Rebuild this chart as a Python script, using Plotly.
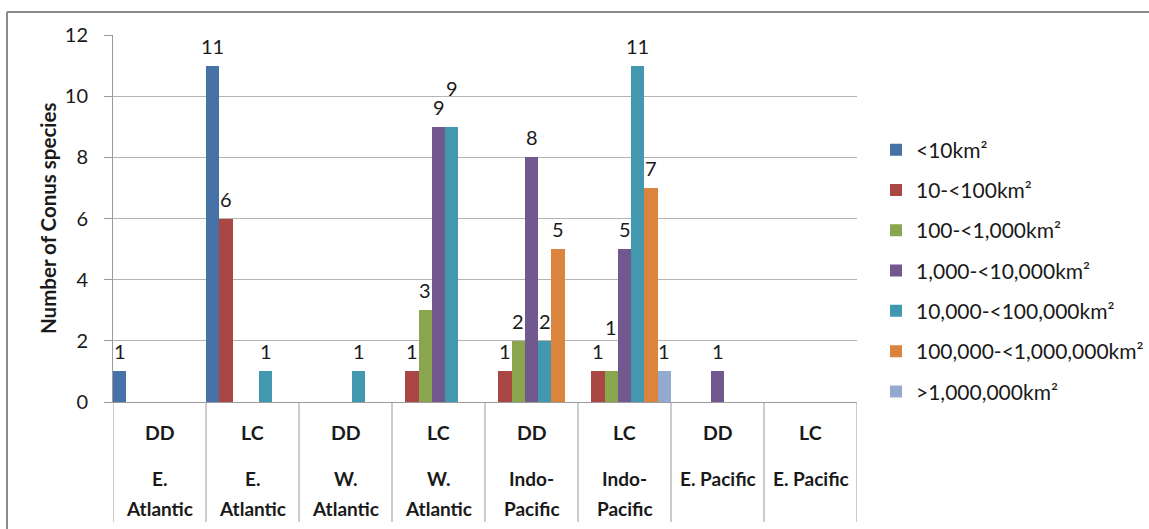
import plotly.graph_objects as go

# ---- data -------------------------------------------------------------
status = ["DD", "LC", "DD", "LC", "DD", "LC", "DD", "LC"]
region = ["E.<br>Atlantic", "E.<br>Atlantic", "W.<br>Atlantic", "W.<br>Atlantic",
          "Indo-<br>Pacific", "Indo-<br>Pacific", "E. Pacific", "E. Pacific"]

series_names = ["<10km²", "10-<100km²", "100-<1,000km²", "1,000-<10,000km²",
                "10,000-<100,000km²", "100,000-<1,000,000km²", ">1,000,000km²"]

lt_10 = [1, 11, 0, 0, 0, 0, 0, 0]
r10_100 = [0, 6, 0, 1, 1, 1, 0, 0]
r100_1k = [0, 0, 0, 3, 2, 1, 0, 0]
r1k_10k = [0, 0, 0, 9, 8, 5, 1, 0]
r10k_100k = [0, 1, 1, 9, 2, 11, 0, 0]
r100k_1m = [0, 0, 0, 0, 5, 7, 0, 0]
gt_1m = [0, 0, 0, 0, 0, 1, 0, 0]

series_values = [lt_10, r10_100, r100_1k, r1k_10k, r10k_100k, r100k_1m, gt_1m]

y_ticks = [0, 2, 4, 6, 8, 10, 12]

# ---- styling ----------------------------------------------------------
colors = ["#4672A8", "#AA4643", "#89A54E", "#71588F", "#4198AF", "#DB843D", "#93A9CF"]
FONT = "Lato"
W, H = 1149, 529
L, R, T, B = 113, 292, 35, 127
PW, PH = W - L - R, H - T - B


def px_x(px):
    return (px - L) / PW


def px_y(py):
    return (H - B - py) / PH


# extra lift (px) for labels nudged apart where they would collide
label_lift = {(4, 3): 19, (2, 5): 24}

n_series = len(series_values)
cats = list(range(len(status)))

fig = go.Figure()
for s, (name, vals) in enumerate(zip(series_names, series_values)):
    fig.add_trace(go.Bar(
        x=cats, y=vals, name=name, legendgroup=name,
        marker=dict(color=colors[s], line=dict(width=0)),
    ))

annotations = []
# data labels above each non-zero bar
for s, vals in enumerate(series_values):
    for i, v in enumerate(vals):
        if v == 0:
            continue
        annotations.append(dict(
            x=i + (s - (n_series - 1) / 2) / n_series, y=v, xref="x", yref="y",
            text=str(v), showarrow=False, yanchor="middle",
            yshift=20 + label_lift.get((s, i), 0),
            font=dict(family=FONT, size=20, color="#1a1a1a"),
        ))

# two-level category labels
for i in cats:
    annotations.append(dict(
        x=i, y=px_y(432), xref="x", yref="paper", text=status[i], showarrow=False,
        yanchor="middle", font=dict(family=FONT, size=19.5, color="#1a1a1a", weight="bold"),
    ))
    for k, line in enumerate(region[i].split("<br>")):
        annotations.append(dict(
            x=i, y=px_y(478 + 30 * k), xref="x", yref="paper", text=line, showarrow=False,
            yanchor="middle", font=dict(family=FONT, size=19, color="#1a1a1a", weight="bold"),
        ))

# y-axis title
annotations.append(dict(
    x=px_x(48), y=px_y(219), xref="paper", yref="paper", text="Number of Conus species",
    textangle=-90, showarrow=False, xanchor="center", yanchor="middle",
    font=dict(family=FONT, size=20.5, color="#1a1a1a", weight="bold"),
))

shapes = []
# separators between categories, running down through the label rows
for k in range(len(status) + 1):
    shapes.append(dict(type="line", xref="x", yref="paper", x0=k - 0.5, x1=k - 0.5,
                       y0=0, y1=px_y(522), line=dict(color="#9A9A9A", width=1)))
# chart-area border
shapes.append(dict(type="line", xref="paper", yref="paper", x0=px_x(7), x1=px_x(1160),
                   y0=px_y(12), y1=px_y(12), line=dict(color="#8A8A8A", width=2)))
shapes.append(dict(type="line", xref="paper", yref="paper", x0=px_x(7), x1=px_x(7),
                   y0=px_y(12), y1=px_y(540), line=dict(color="#8A8A8A", width=2)))

fig.update_layout(
    width=W, height=H,
    margin=dict(l=L, r=R, t=T, b=B, autoexpand=False),
    paper_bgcolor="white", plot_bgcolor="white",
    barmode="group", bargap=0, bargroupgap=0,
    font=dict(family=FONT, size=20, color="#1a1a1a"),
    xaxis=dict(range=[-0.5, len(status) - 0.5], showticklabels=False, showgrid=False,
               zeroline=False, showline=True, linecolor="#9A9A9A", linewidth=1, ticks=""),
    yaxis=dict(range=[0, 12], tickvals=y_ticks, showgrid=True, gridcolor="#B4B4B4",
               gridwidth=1, zeroline=False, showline=True, linecolor="#9A9A9A",
               linewidth=1, ticks="outside", ticklen=8, tickcolor="#9A9A9A",
               ticklabelstandoff=12, tickfont=dict(family=FONT, size=20, color="#1a1a1a")),
    legend=dict(x=px_x(876), y=px_y(271), xanchor="left", yanchor="middle",
                font=dict(family=FONT, size=21, color="#1a1a1a"),
                tracegroupgap=10, bgcolor="rgba(0,0,0,0)"),
    annotations=annotations,
    shapes=shapes,
)

fig.write_html("out.html")
